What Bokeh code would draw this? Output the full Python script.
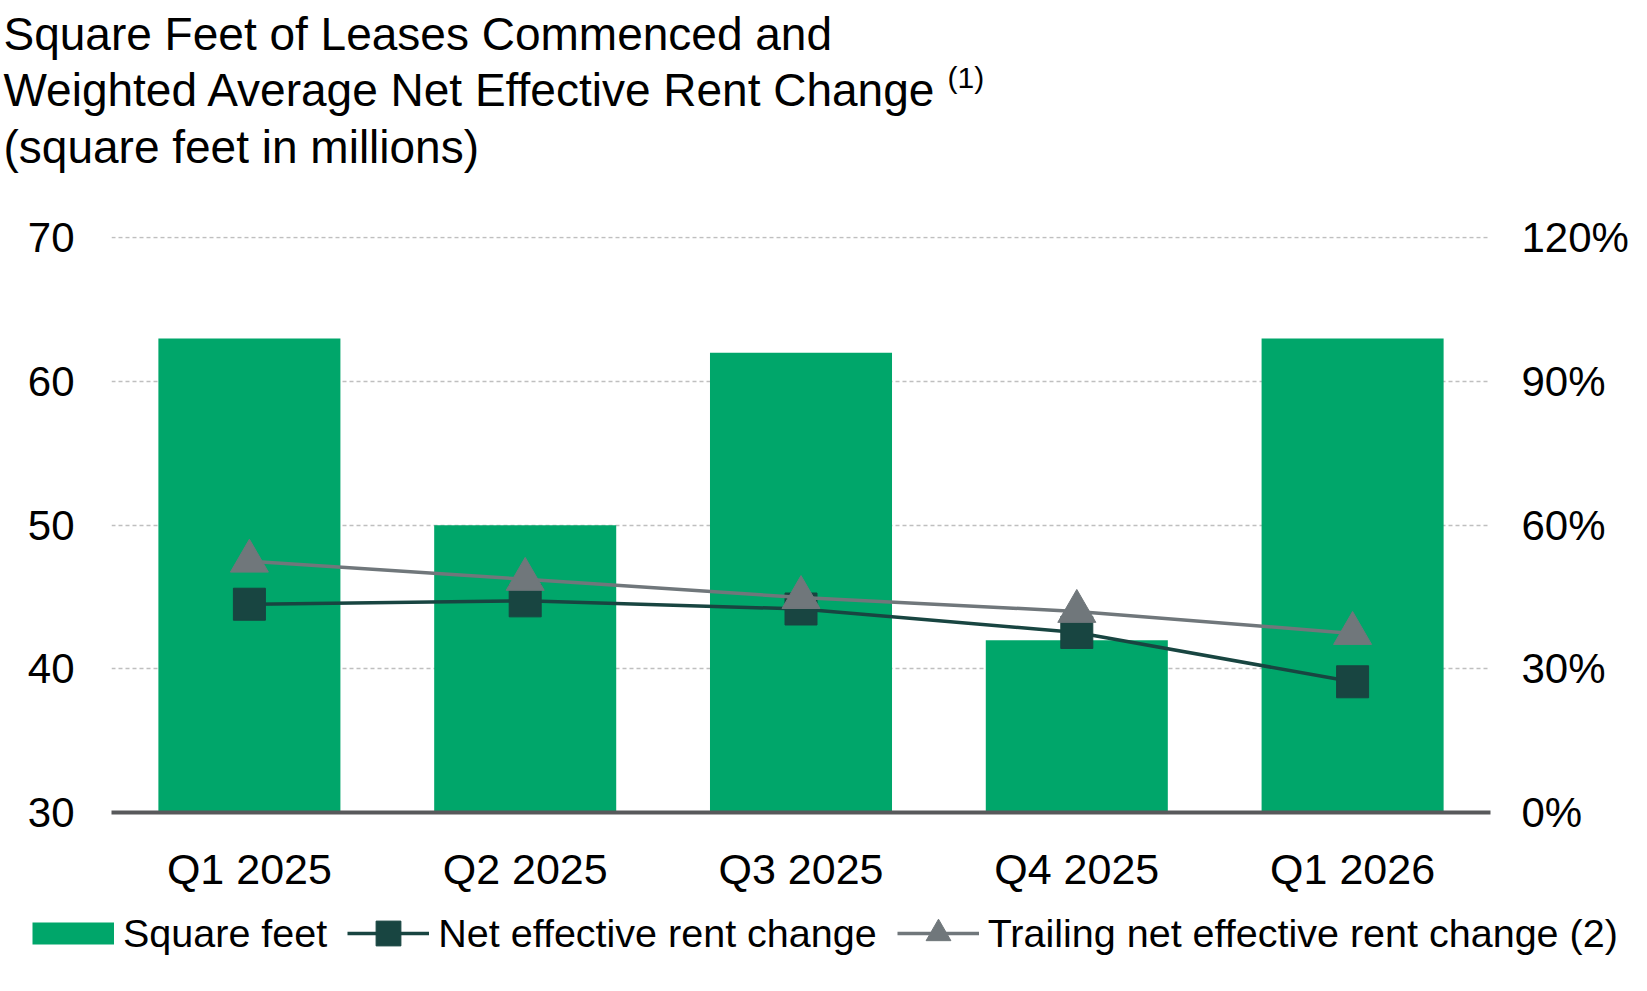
from bokeh.plotting import figure
from bokeh.layouts import column
from bokeh.models import (ColumnDataSource, Range1d, LinearAxis, FixedTicker,
                          PrintfTickFormatter, Legend, LegendItem, FactorRange)
from bokeh.core.properties import value
from bokeh.embed import file_html
from bokeh.resources import INLINE

# ---- data ----
quarters = ["Q1 2025", "Q2 2025", "Q3 2025", "Q4 2025", "Q1 2026"]
square_feet = [63, 50, 62, 42, 63]
net_rent_change = [43.5, 44.2, 42.5, 37.6, 27.3]
trailing_rent_change = [52.5, 48.7, 44.9, 42.0, 37.4]
left_ticks = [30, 40, 50, 60, 70]
right_ticks = [0, 30, 60, 90, 120]
title_lines = ["Square Feet of Leases Commenced and",
               "Weighted Average Net Effective Rent Change",
               "(square feet in millions)"]
title_note = "(1)"
legend_labels = ["Square feet", "Net effective rent change",
                 "Trailing net effective rent change (2)"]

FONT = "Liberation Sans"
GREEN = "#00A66A"
DARK = "#184541"
GRAY = "#70777B"

W = 1631
HH, HM, HF = 206, 696, 73          # header, main, footer heights
FL, FR = 111, 1492                 # main frame left / right
BT, BB = 30, 90                    # main top / bottom borders


def bare(fig):
    fig.outline_line_color = None
    fig.background_fill_color = "white"
    fig.border_fill_color = "white"
    fig.min_border = 0
    fig.min_border_left = 0
    fig.min_border_right = 0
    fig.min_border_top = 0
    fig.min_border_bottom = 0
    fig.frame_align = False
    for g in fig.renderers:
        pass
    fig.xgrid.visible = False
    fig.ygrid.visible = False


# ---- header with the title ----
head = figure(width=W, height=HH, x_range=Range1d(0, W), y_range=Range1d(HH, 0),
              x_axis_location=None, y_axis_location=None, title=None,
              output_backend="svg", toolbar_location=None)
bare(head)
head.text(x=[3, 3, 3], y=[33, 89.5, 146], text=title_lines,
          text_font=value(FONT), text_font_size="46px", text_color="black",
          text_baseline="alphabetic", text_align="left")
head.text(x=[947], y=[77], text=[title_note],
          text_font=value(FONT), text_font_size="30px", text_color="black",
          text_baseline="alphabetic", text_align="left")

# ---- main chart ----
p = figure(width=W, height=HM,
           x_range=FactorRange(factors=quarters, range_padding=0),
           y_range=Range1d(30, 70.1),
           output_backend="svg", toolbar_location=None,
           min_border_left=FL, min_border_right=W - FR,
           min_border_top=BT, min_border_bottom=BB)
p.outline_line_color = None
p.background_fill_color = "white"
p.border_fill_color = "white"
p.frame_align = False

p.extra_y_ranges = {"pct": Range1d(0, 120.3)}
p.add_layout(LinearAxis(y_range_name="pct", ticker=FixedTicker(ticks=right_ticks),
                        formatter=PrintfTickFormatter(format="%d%%")), "right")
p.yaxis[0].ticker = FixedTicker(ticks=left_ticks)

for ax in p.yaxis:
    ax.axis_line_color = None
    ax.major_tick_line_color = None
    ax.minor_tick_line_color = None
    ax.major_tick_out = 0
    ax.major_tick_in = 0
    ax.minor_tick_out = 0
    ax.minor_tick_in = 0
    ax.major_label_text_font = FONT
    ax.major_label_text_font_size = "42px"
    ax.major_label_text_color = "black"
p.yaxis[0].major_label_standoff = 37
p.yaxis[1].major_label_standoff = 31

ax = p.xaxis[0]
ax.axis_line_color = "#58595B"
ax.axis_line_width = 4
ax.major_tick_line_color = None
ax.minor_tick_line_color = None
ax.major_tick_out = 0
ax.major_tick_in = 0
ax.major_label_text_font = FONT
ax.major_label_text_font_size = "43px"
ax.major_label_text_color = "black"
ax.major_label_standoff = 32

p.xgrid.visible = False
p.ygrid.ticker = FixedTicker(ticks=left_ticks[1:])
p.ygrid.grid_line_color = "#BFBFBF"
p.ygrid.grid_line_dash = "4 3"
p.ygrid.grid_line_width = 1.5

src = ColumnDataSource(dict(q=quarters, sf=square_feet,
                            net=net_rent_change, trail=trailing_rent_change))

p.vbar(x="q", top="sf", bottom=30, width=0.66, source=src,
       fill_color=GREEN, line_color=None)
p.line("q", "net", source=src, y_range_name="pct", line_color=DARK, line_width=3.5)
p.scatter("q", "net", source=src, y_range_name="pct", marker="square",
          size=32, fill_color=DARK, line_color=DARK)
p.line("q", "trail", source=src, y_range_name="pct", line_color=GRAY, line_width=3.5)
p.scatter("q", "trail", source=src, y_range_name="pct", marker="triangle",
          size=38, fill_color=GRAY, line_color=GRAY)

# ---- footer with the legend (legend-only renderers, nothing drawn) ----
foot = figure(width=W, height=HF, x_range=Range1d(0, 1), y_range=Range1d(0, 1),
              x_axis_location=None, y_axis_location=None, title=None,
              output_backend="svg", toolbar_location=None)
bare(foot)
nan = float("nan")
dummy = ColumnDataSource(dict(x=[nan], y=[nan]))
lg_band = foot.line("x", "y", source=dummy, line_color=GREEN, line_width=22)
lg_net_l = foot.line("x", "y", source=dummy, line_color=DARK, line_width=3.5)
lg_net_m = foot.scatter("x", "y", source=dummy, marker="square",
                        fill_color=DARK, line_color=DARK)
lg_tr_l = foot.line("x", "y", source=dummy, line_color=GRAY, line_width=3.5)
lg_tr_m = foot.scatter("x", "y", source=dummy, marker="triangle",
                       fill_color=GRAY, line_color=GRAY)

legend = Legend(items=[LegendItem(label=legend_labels[0], renderers=[lg_band]),
                       LegendItem(label=legend_labels[1], renderers=[lg_net_l, lg_net_m]),
                       LegendItem(label=legend_labels[2], renderers=[lg_tr_l, lg_tr_m])],
                orientation="horizontal", location=(32, 11),
                glyph_width=82, glyph_height=62, label_standoff=9, spacing=20,
                padding=0, margin=0, border_line_color=None,
                background_fill_alpha=0,
                label_text_font=FONT, label_text_font_size="39.5px",
                label_text_color="black")
foot.add_layout(legend)

page = column(head, p, foot, spacing=0)
open("out.html", "w").write(file_html(page, INLINE))
